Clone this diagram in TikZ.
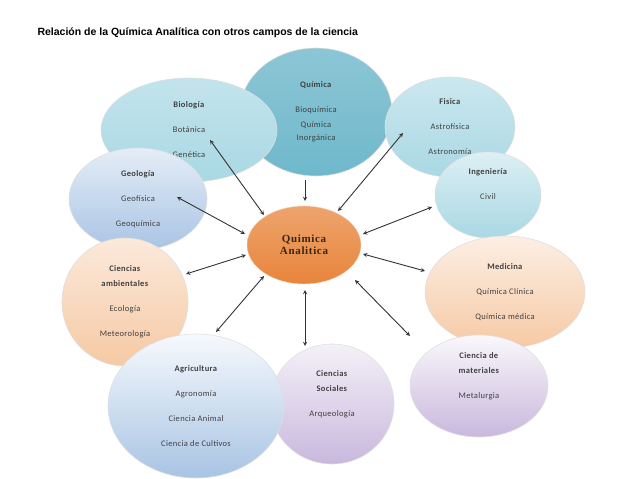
\documentclass[tikz,border=0pt]{standalone}
\usepackage{fontspec}
\setmainfont{Carlito}[LetterSpace=4]
\newfontfamily\titlefont{Liberation Sans}
\newfontfamily\centerfont{Liberation Serif}
\usetikzlibrary{shapes.geometric}
\definecolor{tealA}{HTML}{6FB8CB}
\definecolor{tealB}{HTML}{A9D8E4}
\definecolor{peachA}{HTML}{F6C9A4}
\definecolor{lavA}{HTML}{C9B8DD}
\definecolor{bluA}{HTML}{A8C4E4}
\definecolor{orangeA}{HTML}{E8853C}
\tikzset{
  field/.style={ellipse, draw=white!75!gray, line width=0.6pt, inner sep=0pt,
    align=center, text=black!75, font={\fontsize{8.5}{25}\selectfont}},
  arr/.style={<->, >=stealth, line width=0.9pt, black!80},
}
\newcommand{\hd}[1]{\textbf{#1}}
\begin{document}
\begin{tikzpicture}[x=1pt, y=-1pt]
  \useasboundingbox (0,0) rectangle (638,479);
  \node[anchor=west, font={\titlefont\bfseries\fontsize{10.5}{12}\selectfont}] (title) at (34,33)
    {Relación de la Química Analítica con otros campos de la ciencia};

  % outer fields
  \node[field, top color=tealA!80, bottom color=tealA, minimum width=152pt, minimum height=128pt] (qui) at (316,112)
    {\hd{Química}\\Bioquímica\\[-10pt]Química\\[-12pt]Inorgánica};
  \node[field, top color=tealB!70, bottom color=tealB, minimum width=176pt, minimum height=104pt] (bio) at (189,130)
    {\hd{Biología}\\Botánica\\Genética};
  \node[field, top color=tealB!60, bottom color=tealB, minimum width=130pt, minimum height=100pt] (fis) at (450,127)
    {\hd{Fisica}\\Astrofísica\\Astronomía};
  \node[field, top color=bluA!30, bottom color=bluA, minimum width=138pt, minimum height=102pt] (geo) at (138,199)
    {\hd{Geología}\\Geofísica\\Geoquímica};
  \node[field, top color=tealB!40, bottom color=tealB, minimum width=106pt, minimum height=86pt] (ing) at (488,195)
    {\hd{Ingeniería}\\Civil\\[-4pt]\mbox{}};
  \node[field, top color=peachA!40, bottom color=peachA, minimum width=126pt, minimum height=128pt] (amb) at (125,302)
    {\hd{Ciencias}\\[-10pt]\hd{ambientales}\\Ecología\\Meteorología};
  \node[field, top color=peachA!30, bottom color=peachA, minimum width=160pt, minimum height=112pt] (med) at (505,292)
    {\hd{Medicina}\\Química Clínica\\Química médica};
  \node[field, top color=lavA!20, bottom color=lavA, minimum width=124pt, minimum height=120pt] (soc) at (332,404)
    {\hd{Ciencias}\\[-10pt]\hd{Sociales}\\Arqueología\\[-4pt]\mbox{}};
  \node[field, top color=bluA!10, bottom color=bluA, minimum width=176pt, minimum height=144pt] (agr) at (196,406)
    {\hd{Agricultura}\\Agronomía\\Ciencia Animal\\Ciencia de Cultivos};
  \node[field, top color=lavA!10, bottom color=lavA, minimum width=138pt, minimum height=102pt] (mat) at (479,386)
    {\hd{Ciencia de}\\[-10pt]\hd{materiales}\\Metalurgia\\[-4pt]\mbox{}};

  % centre
  \node[ellipse, draw=white!70!orangeA, inner sep=0pt, top color=orangeA!75, bottom color=orangeA,
    minimum width=114pt, minimum height=78pt, align=center, text=black!70!brown,
    font={\centerfont\bfseries\fontsize{11}{12}\selectfont\addfontfeature{LetterSpace=6}}] (qa) at (304,245) {Quimica\\Analitica};

  % arrow ends
  \coordinate (bioA) at (210,140);  \coordinate (bioB) at (264,215);
  \coordinate (quiA) at (305,180);  \coordinate (quiB) at (305,201);
  \coordinate (fisA) at (403,133);  \coordinate (fisB) at (338,211);
  \coordinate (geoA) at (177,197);  \coordinate (geoB) at (245,234);
  \coordinate (ingA) at (432,207);  \coordinate (ingB) at (363,234);
  \coordinate (ambA) at (186,274);  \coordinate (ambB) at (246,255);
  \coordinate (medA) at (425,271);  \coordinate (medB) at (363,254);
  \coordinate (agrA) at (216,332);  \coordinate (agrB) at (264,276);
  \coordinate (socA) at (305,346);  \coordinate (socB) at (305,290);
  \coordinate (matA) at (410,336);  \coordinate (matB) at (355,280);

  \draw[arr, <-] (quiB) -- (quiA);
  \foreach \f in {bio,fis,geo,ing,amb,med,agr,soc,mat}
    \draw[arr] (\f A) -- (\f B);
\end{tikzpicture}
\end{document}
